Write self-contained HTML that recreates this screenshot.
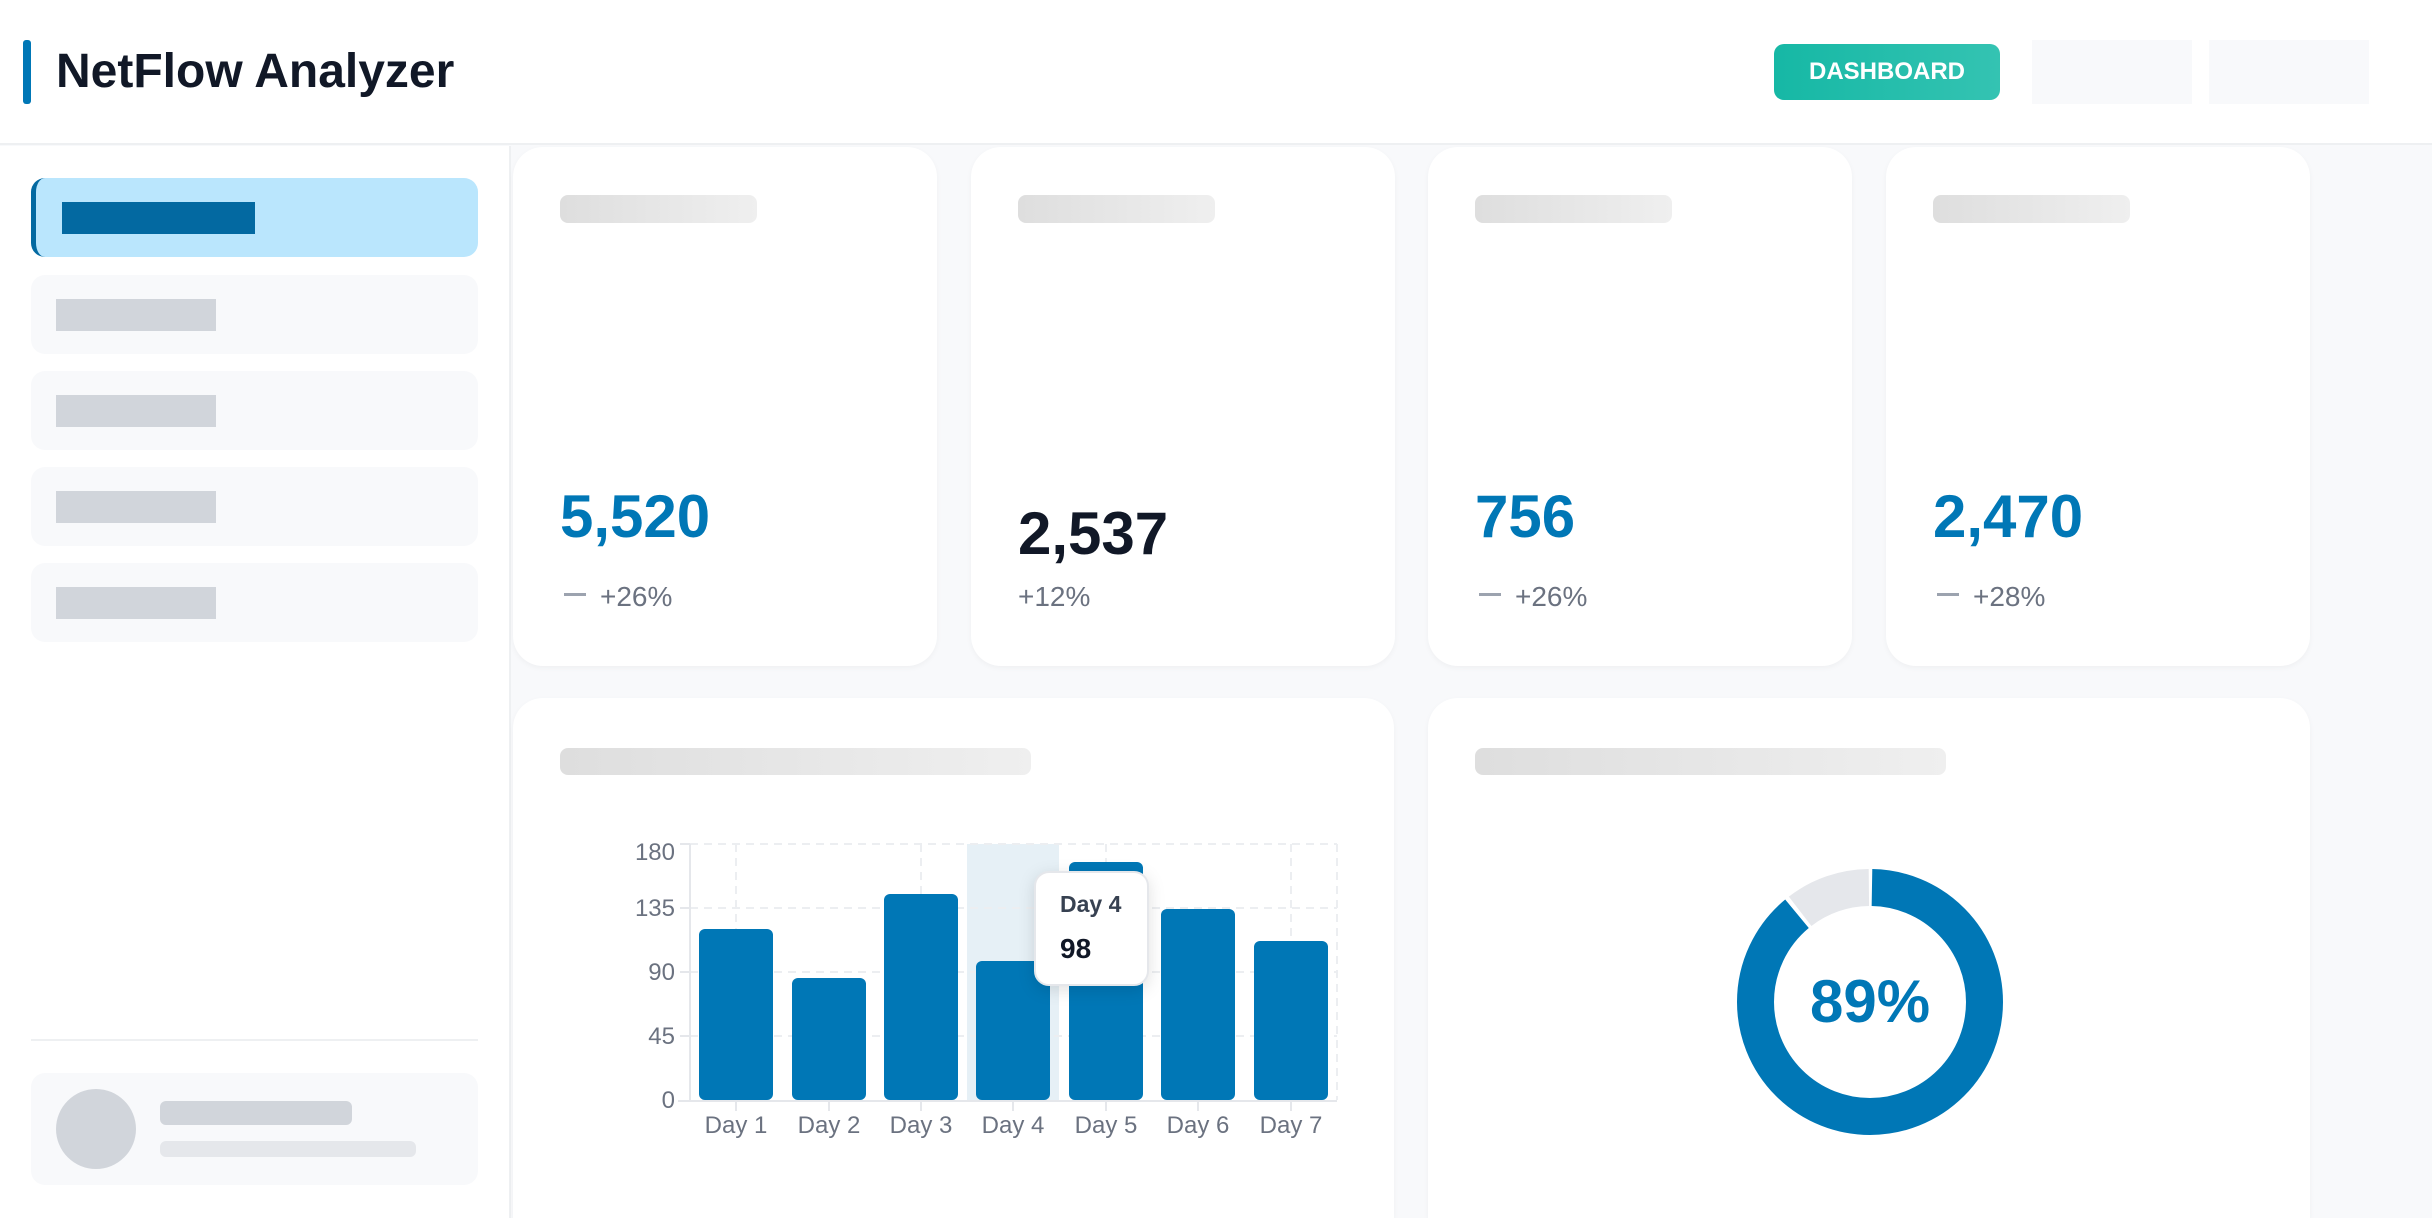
<!DOCTYPE html>
<html style="width:2432px;height:1218px;overflow:hidden"><head><meta charset="utf-8"><style>
*{margin:0;padding:0;box-sizing:border-box}
body{width:2432px;height:1218px;overflow:hidden;background:#f8f9fb;font-family:"Liberation Sans",sans-serif;position:relative}
.a{position:absolute}
.card{position:absolute;background:#fff;border-radius:30px;box-shadow:0 2px 6px rgba(0,0,0,0.04)}
.sk{position:absolute;border-radius:8px;background:linear-gradient(90deg,#dedede,#efefef)}
.nav{position:absolute;left:31px;width:447px;height:79px;border-radius:14px;background:#f8f9fb}
.nav i{position:absolute;left:25px;top:24px;width:160px;height:32px;background:#d1d5db}
.val{position:absolute;left:47px;font-weight:bold;font-size:60px;color:#0077b6}
.chg{position:absolute;left:47px;font-size:28px;color:#6b7280}
.chg b{display:inline-block;width:22px;height:3px;background:#9ca3af;vertical-align:middle;margin:0 14px 8px 4px}
</style></head><body>
<div class="a" style="left:0;top:0;width:2432px;height:145px;background:#fff;border-bottom:2px solid #eef0f2"></div>
<div class="a" style="left:23px;top:40px;width:8px;height:64px;border-radius:3px;background:#0077b6"></div>
<div class="a" style="left:56px;top:40px;font-size:48px;font-weight:bold;color:#111827;line-height:64px">NetFlow Analyzer</div>
<div class="a" style="left:1774px;top:44px;width:226px;height:56px;border-radius:10px;background:linear-gradient(90deg,#16b8a5,#34c3b2);color:#fff;font-weight:bold;font-size:24px;text-align:center;line-height:56px">DASHBOARD</div>
<div class="a" style="left:2032px;top:40px;width:160px;height:64px;background:#f8f9fb"></div>
<div class="a" style="left:2209px;top:40px;width:160px;height:64px;background:#f8f9fb"></div>

<div class="a" style="left:0;top:146px;width:511px;height:1072px;background:#fff;border-right:2px solid #eef0f2"></div>
<div class="nav" style="top:178px;background:#bae6fd;border-left:5px solid #0369a1"><i style="left:26px;background:#0369a1;width:193px"></i></div>
<div class="nav" style="top:275px"><i></i></div>
<div class="nav" style="top:371px"><i></i></div>
<div class="nav" style="top:467px"><i></i></div>
<div class="nav" style="top:563px"><i></i></div>
<div class="a" style="left:31px;top:1039px;width:447px;height:2px;background:#eef0f2"></div>
<div class="nav" style="top:1073px;height:112px"></div>
<div class="a" style="left:56px;top:1089px;width:80px;height:80px;border-radius:50%;background:#d1d5db"></div>
<div class="a" style="left:160px;top:1101px;width:192px;height:24px;border-radius:6px;background:#d1d5db"></div>
<div class="a" style="left:160px;top:1141px;width:256px;height:16px;border-radius:6px;background:#e5e7eb"></div>

<div class="card" style="left:513px;top:147px;width:424px;height:519px">
<div class="sk" style="left:47px;top:48px;width:197px;height:28px"></div>
<div class="val" style="top:335px">5,520</div>
<div class="chg" style="top:434px"><b></b>+26%</div></div>
<div class="card" style="left:971px;top:147px;width:424px;height:519px">
<div class="sk" style="left:47px;top:48px;width:197px;height:28px"></div>
<div class="val" style="top:352px;color:#111827">2,537</div>
<div class="chg" style="top:434px">+12%</div></div>
<div class="card" style="left:1428px;top:147px;width:424px;height:519px">
<div class="sk" style="left:47px;top:48px;width:197px;height:28px"></div>
<div class="val" style="top:335px">756</div>
<div class="chg" style="top:434px"><b></b>+26%</div></div>
<div class="card" style="left:1886px;top:147px;width:424px;height:519px">
<div class="sk" style="left:47px;top:48px;width:197px;height:28px"></div>
<div class="val" style="top:335px">2,470</div>
<div class="chg" style="top:434px"><b></b>+28%</div></div>

<div class="card" style="left:513px;top:698px;width:881px;height:520px;border-radius:30px 30px 0 0">
<div class="sk" style="left:47px;top:50px;width:471px;height:27px"></div></div>
<div class="card" style="left:1428px;top:698px;width:882px;height:520px;border-radius:30px 30px 0 0">
<div class="sk" style="left:47px;top:50px;width:471px;height:27px"></div></div>

<svg class="a" style="left:0;top:0" width="2432" height="1218">
<g font-family="Liberation Sans" font-size="24" fill="#6b7280">
<rect x="967" y="844" width="92" height="256" fill="#e6f0f6"/>
<g stroke="#eceef1" stroke-width="2" stroke-dasharray="8,6" fill="none">
<line x1="690" y1="844" x2="1337" y2="844"/><line x1="690" y1="908" x2="1337" y2="908"/>
<line x1="690" y1="972" x2="1337" y2="972"/><line x1="690" y1="1036" x2="1337" y2="1036"/>
<line x1="736" y1="844" x2="736" y2="1100"/><line x1="921" y1="844" x2="921" y2="1100"/>
<line x1="1106" y1="844" x2="1106" y2="1100"/><line x1="1291" y1="844" x2="1291" y2="1100"/>
<line x1="1337" y1="844" x2="1337" y2="1100"/>
</g>
<g stroke="#e5e7eb" stroke-width="2">
<line x1="690" y1="844" x2="690" y2="1101"/><line x1="678" y1="1101" x2="1337" y2="1101"/>
<line x1="680" y1="844" x2="690" y2="844"/><line x1="680" y1="908" x2="690" y2="908"/><line x1="680" y1="972" x2="690" y2="972"/><line x1="680" y1="1036" x2="690" y2="1036"/>
<line x1="736" y1="1101" x2="736" y2="1111"/><line x1="829" y1="1101" x2="829" y2="1111"/><line x1="921" y1="1101" x2="921" y2="1111"/><line x1="1013" y1="1101" x2="1013" y2="1111"/><line x1="1106" y1="1101" x2="1106" y2="1111"/><line x1="1198" y1="1101" x2="1198" y2="1111"/><line x1="1291" y1="1101" x2="1291" y2="1111"/>
</g>
<g fill="#0077b6">
<rect x="699" y="929" width="74" height="171" rx="6"/>
<rect x="792" y="978" width="74" height="122" rx="6"/>
<rect x="884" y="894" width="74" height="206" rx="6"/>
<rect x="976" y="961" width="74" height="139" rx="6"/>
<rect x="1069" y="862" width="74" height="238" rx="6"/>
<rect x="1161" y="909" width="74" height="191" rx="6"/>
<rect x="1254" y="941" width="74" height="159" rx="6"/>
</g>
<g text-anchor="end">
<text x="675" y="860">180</text><text x="675" y="916">135</text><text x="675" y="980">90</text><text x="675" y="1044">45</text><text x="675" y="1108">0</text></g>
<g text-anchor="middle">
<text x="736" y="1133">Day 1</text><text x="829" y="1133">Day 2</text><text x="921" y="1133">Day 3</text><text x="1013" y="1133">Day 4</text><text x="1106" y="1133">Day 5</text><text x="1198" y="1133">Day 6</text><text x="1291" y="1133">Day 7</text></g>
</g>
<rect x="1035" y="872" width="113" height="113" rx="14" fill="#fff" stroke="#e5e7eb" stroke-width="2" style="filter:drop-shadow(0 4px 8px rgba(0,0,0,0.12))"/>
<text x="1060" y="912" font-family="Liberation Sans" font-weight="bold" font-size="23" fill="#374151">Day 4</text>
<text x="1060" y="958" font-family="Liberation Sans" font-weight="bold" font-size="28" fill="#111827">98</text>

<g transform="translate(1870,1002) rotate(-90)" fill="none" stroke-width="37">
<circle r="114.5" stroke="#0077b6" stroke-dasharray="638 1000" stroke-dashoffset="-2"/>
<circle r="114.5" stroke="#e5e7eb" stroke-dasharray="74 1000" stroke-dashoffset="-644"/>
</g>
<text x="1870" y="1022" text-anchor="middle" font-family="Liberation Sans" font-weight="bold" font-size="60" fill="#0077b6">89%</text>
</svg>
</body></html>
